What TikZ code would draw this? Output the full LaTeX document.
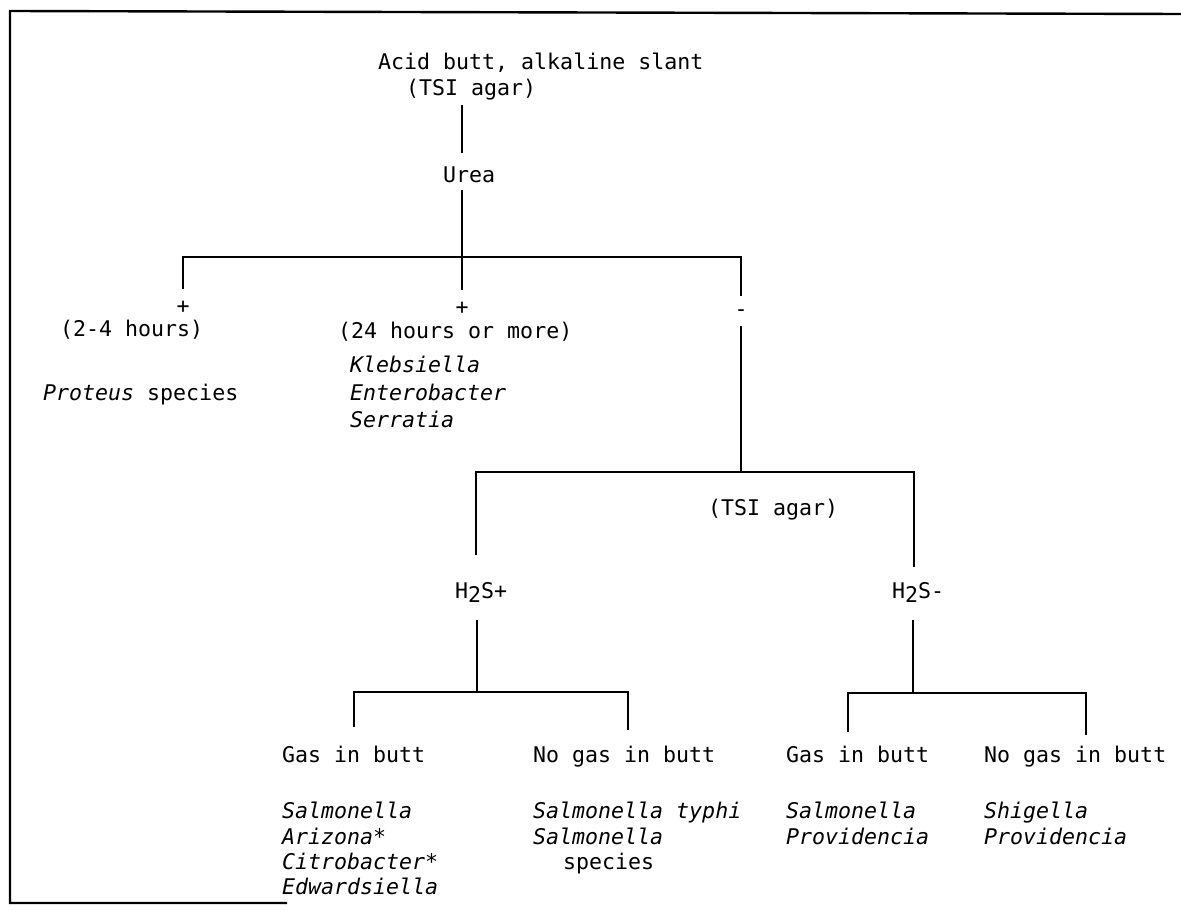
\documentclass[tikz,border=0pt]{standalone}
\usepackage{fontspec}
\setmonofont{DejaVu Sans Mono}
\tikzset{
  lbl/.style={anchor=base west, inner sep=0pt, font=\ttfamily\fontsize{21.6}{26}\selectfont},
  sp/.style={anchor=base west, inner sep=0pt, font=\ttfamily\itshape\fontsize{21.6}{26}\selectfont},
  sgn/.style={anchor=center, inner sep=0pt, font=\ttfamily\fontsize{21.6}{26}\selectfont},
  ln/.style={line width=2.4pt, line cap=butt, line join=miter},
  frame/.style={line width=2.4pt},
}
\newcommand{\sub}[1]{\raisebox{-0.4ex}{#1}}
\begin{document}
\begin{tikzpicture}[x=1pt,y=-1pt]
\fill[white] (0,0) rectangle (1181,912);
\useasboundingbox (0,0) rectangle (1181,912);

% frame
\coordinate (fTR) at (1181,14);
\coordinate (fTL) at (10,11);
\coordinate (fBL) at (10,903);
\coordinate (fBR) at (287,903);
\draw[frame] (fTR) -- (fTL) -- (fBL) -- (fBR);

% texts
\node[lbl] (title) at (378,70) {Acid butt, alkaline slant};
\node[lbl] (tsi1) at (406,96) {(TSI agar)};
\node[lbl] (urea) at (443,183) {Urea};
\node[sgn] (plusA) at (183,307) {+};
\node[sgn] (plusB) at (462,308) {+};
\node[sgn] (minus) at (741,313) {-};
\node[lbl] (hrs) at (60,336) {(2-4 hours)};
\node[lbl] (proteus) at (43,400) {\textit{Proteus} species};
\node[lbl] (hrs24) at (338,338) {(24 hours or more)};
\node[sp] (kleb) at (350,372) {Klebsiella};
\node[sp] (entero) at (350,400) {Enterobacter};
\node[sp] (serr) at (350,427) {Serratia};
\node[lbl] (tsi2) at (708,515) {(TSI agar)};
\node[lbl] (h2sp) at (455,598) {H\sub{2}S+};
\node[lbl] (h2sm) at (892,598) {H\sub{2}S-};
\node[lbl] (gasA) at (282,762) {Gas in butt};
\node[lbl] (nogasA) at (533,762) {No gas in butt};
\node[lbl] (gasB) at (786,762) {Gas in butt};
\node[lbl] (nogasB) at (984,762) {No gas in butt};
\node[sp] (salA) at (282,818) {Salmonella};
\node[sp] (ariz) at (282,844) {Arizona*};
\node[sp] (citro) at (282,869) {Citrobacter*};
\node[sp] (edw) at (282,894) {Edwardsiella};
\node[sp] (typhi) at (533,818) {Salmonella typhi};
\node[sp] (salm2) at (533,844) {Salmonella};
\node[lbl] (spec) at (563,869) {species};
\node[sp] (salB) at (786,818) {Salmonella};
\node[sp] (provB) at (786,844) {Providencia};
\node[sp] (shig) at (984,818) {Shigella};
\node[sp] (provC) at (984,844) {Providencia};

% connector coordinates
\coordinate (tsiBot) at (462,105);
\coordinate (ureaTop) at (462,153);
\coordinate (ureaBot) at (462,190);
\coordinate (plusBTop) at (462,290);
\coordinate (plusATop) at (183,289);
\coordinate (barUL) at (183,257);
\coordinate (barUR) at (741,257);
\coordinate (minusTop) at (741,296);
\coordinate (minusBot) at (741,326);
\coordinate (jM) at (741,472);
\coordinate (barML) at (476,472);
\coordinate (barMR) at (914,472);
\coordinate (h2spTop) at (476,555);
\coordinate (h2smTop) at (914,567);
\coordinate (h2spBot) at (477,620);
\coordinate (jP) at (477,692);
\coordinate (barPL) at (354,692);
\coordinate (barPR) at (628,692);
\coordinate (gasATop) at (354,727);
\coordinate (nogasATop) at (628,730);
\coordinate (h2smBot) at (913,620);
\coordinate (jN) at (913,693);
\coordinate (barNL) at (848,693);
\coordinate (barNR) at (1086,693);
\coordinate (gasBTop) at (848,732);
\coordinate (nogasBTop) at (1086,735);

% connectors
\draw[ln] (tsiBot) -- (ureaTop);
\draw[ln] (ureaBot) -- (plusBTop);
\draw[ln] (plusATop) -- (barUL) -- (barUR) -- (minusTop);
\draw[ln] (minusBot) -- (jM);
\draw[ln] (h2spTop) -- (barML) -- (barMR) -- (h2smTop);
\draw[ln] (h2spBot) -- (jP);
\draw[ln] (gasATop) -- (barPL) -- (barPR) -- (nogasATop);
\draw[ln] (h2smBot) -- (jN);
\draw[ln] (gasBTop) -- (barNL) -- (barNR) -- (nogasBTop);
\end{tikzpicture}
\end{document}
